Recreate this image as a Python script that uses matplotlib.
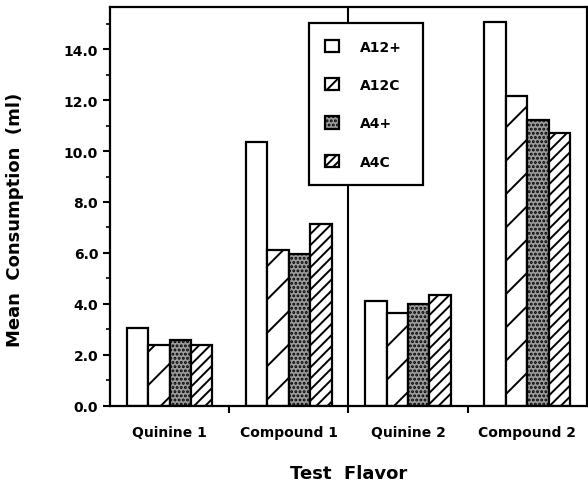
import numpy as np
import matplotlib
matplotlib.use("Agg")
import matplotlib.pyplot as plt

flavors = ["Quinine 1", "Compound 1", "Quinine 2", "Compound 2"]
groups = ["A12+", "A12C", "A4+", "A4C"]
a12_plus = [3.05, 10.35, 4.1, 15.05]
a12_c = [2.4, 6.1, 3.65, 12.15]
a4_plus = [2.6, 5.95, 4.0, 11.2]
a4_c = [2.4, 7.15, 4.35, 10.7]

plt.rcParams["font.family"] = ["DejaVu Sans"]
plt.rcParams["font.weight"] = "bold"
plt.rcParams["hatch.linewidth"] = 1.4

fig = plt.figure(figsize=(5.88, 4.85), dpi=100)
ax = fig.add_axes([0.187, 0.161, 0.811, 0.8225])

styles = [
    dict(facecolor="white", hatch=None),
    dict(facecolor="white", hatch="/"),
    dict(facecolor="#9c9c9c", hatch="...."),
    dict(facecolor="white", hatch="///"),
]
width = 0.18
x = np.arange(len(flavors)) + 0.5
for i, (vals, name) in enumerate(zip([a12_plus, a12_c, a4_plus, a4_c], groups)):
    ax.bar(x + (i - 1.5) * width, vals, width, edgecolor="black", linewidth=1.6,
           label=name, zorder=2, **styles[i])

# separator line between the compound 1 and quinine 2 groups
ax.axvline(2, color="black", lw=1.5, zorder=1)

ax.set_xlim(0, 4)
ax.set_ylim(0, 15.65)
ax.set_yticks(np.arange(0, 15, 2))
ax.set_yticklabels([f"{v:.1f}" for v in np.arange(0, 15, 2)])
ax.set_yticks(np.arange(0, 16, 1), minor=True)
ax.set_xticks([1, 2, 3])
ax.set_xticklabels([])
ax.set_xticks(x, minor=True)
ax.set_xticklabels(flavors, minor=True)

ax.tick_params(axis="y", which="major", direction="out", length=5, width=1.5, labelsize=10)
ax.tick_params(axis="y", which="minor", direction="out", length=3, width=1.2)
ax.tick_params(axis="x", which="major", direction="out", length=5, width=1.5)
ax.tick_params(axis="x", which="minor", length=0, labelsize=10, pad=14)
for s in ax.spines.values():
    s.set_linewidth(1.6)

ax.set_xlabel("Test  Flavor", fontsize=13, fontweight="bold")
ax.xaxis.set_label_coords(0.5, -0.145)
ax.set_ylabel("Mean  Consumption  (ml)", fontsize=13, fontweight="bold")
ax.yaxis.set_label_coords(-0.18, 0.47)

leg = ax.legend(loc="upper left", bbox_to_anchor=(0.417, 0.554, 0.239, 0.406),
                mode="expand", borderaxespad=0,
                fancybox=False, framealpha=1, edgecolor="black", fontsize=10,
                handlelength=1.0, handleheight=1.0, handletextpad=1.5,
                labelspacing=1.75, borderpad=1.2)
leg.get_frame().set_linewidth(1.6)
leg.set_zorder(5)
# small legend squares need a denser hatch to show the stripe
leg.legend_handles[1].set_hatch("//")
leg.legend_handles[3].set_hatch("////")

fig.savefig("out.png", dpi=100)
